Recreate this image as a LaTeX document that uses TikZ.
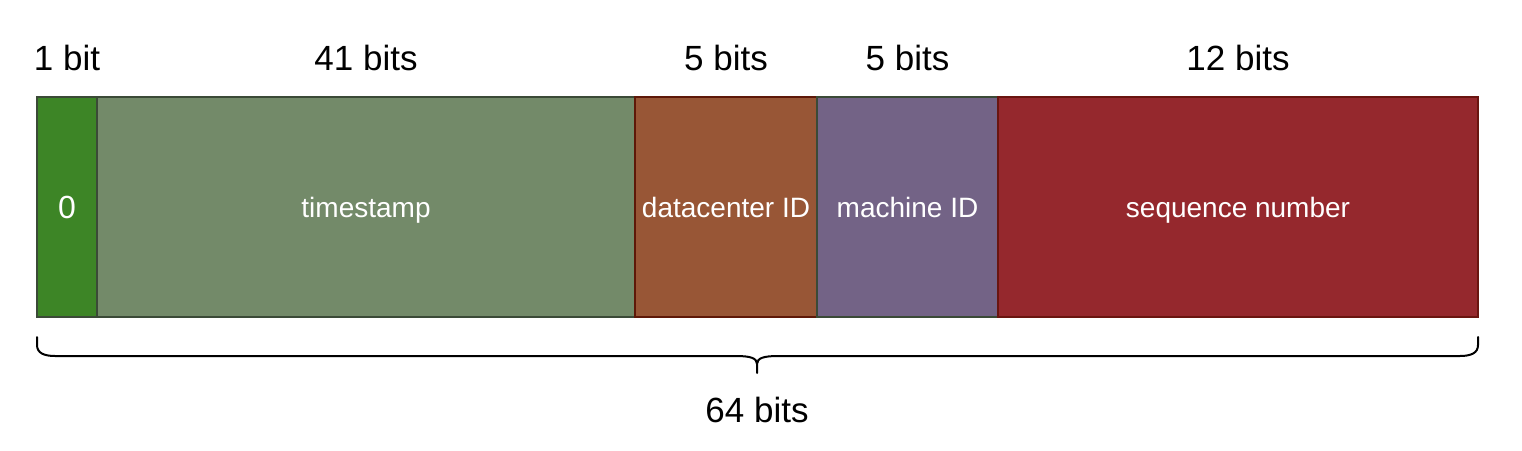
\documentclass[tikz,border=0pt]{standalone}
\usepackage{fontspec}
\setmainfont{Liberation Sans}
\definecolor{cZero}{HTML}{3D8526}
\definecolor{cTime}{HTML}{738A69}
\definecolor{cData}{HTML}{985636}
\definecolor{cMach}{HTML}{736386}
\definecolor{cSeq}{HTML}{95282D}
\definecolor{sGreen}{HTML}{3B4A37}
\definecolor{sBrown}{HTML}{5E1808}
\definecolor{sRed}{HTML}{6A1510}
\begin{document}
\begin{tikzpicture}[x=1pt,y=-1pt,
  field/.style={draw, line width=2pt, minimum height=220pt, inner sep=0pt, outer sep=0pt,
    text=white, font=\fontsize{28}{32}\selectfont, text height=20pt, text depth=0pt, anchor=north west},
  toplabel/.style={font=\fontsize{35}{40}\selectfont, text=black, inner sep=0pt}]
\useasboundingbox (0,0) rectangle (1522,450);
\node[field, fill=cZero, draw=sGreen, minimum width=60pt, font=\fontsize{32}{36}\selectfont, text height=23pt] (f0) at (37,97) {0};
\node[field, fill=cTime, draw=sGreen, minimum width=538pt] (f1) at (97,97) {timestamp};
\node[field, fill=cData, draw=sBrown, minimum width=182pt] (f2) at (635,97) {datacenter ID};
\node[field, fill=cMach, draw=sGreen, minimum width=181pt] (f3) at (817,97) {machine ID};
\node[field, fill=cSeq, draw=sRed, minimum width=480pt] (f4) at (998,97) {sequence number};
\node[toplabel] (l0) at (f0.north |- 0,58) {1 bit};
\node[toplabel] (l1) at (f1.north |- 0,58) {41 bits};
\node[toplabel] (l2) at (f2.north |- 0,58) {5 bits};
\node[toplabel] (l3) at (f3.north |- 0,58) {5 bits};
\node[toplabel] (l4) at (f4.north |- 0,58) {12 bits};
\draw[line width=2pt, line cap=round]
  (37,337) -- (37,345) .. controls (37,353) and (44,356) .. (55,356)
  -- (736,356) .. controls (750,356) and (757,358) .. (757,364) -- (757,373)
  (757,364) .. controls (757,358) and (764,356) .. (778,356)
  -- (1460,356) .. controls (1471,356) and (1478,353) .. (1478,345) -- (1478,337);
\node[toplabel] (total) at (757,410) {64 bits};
\end{tikzpicture}
\end{document}
